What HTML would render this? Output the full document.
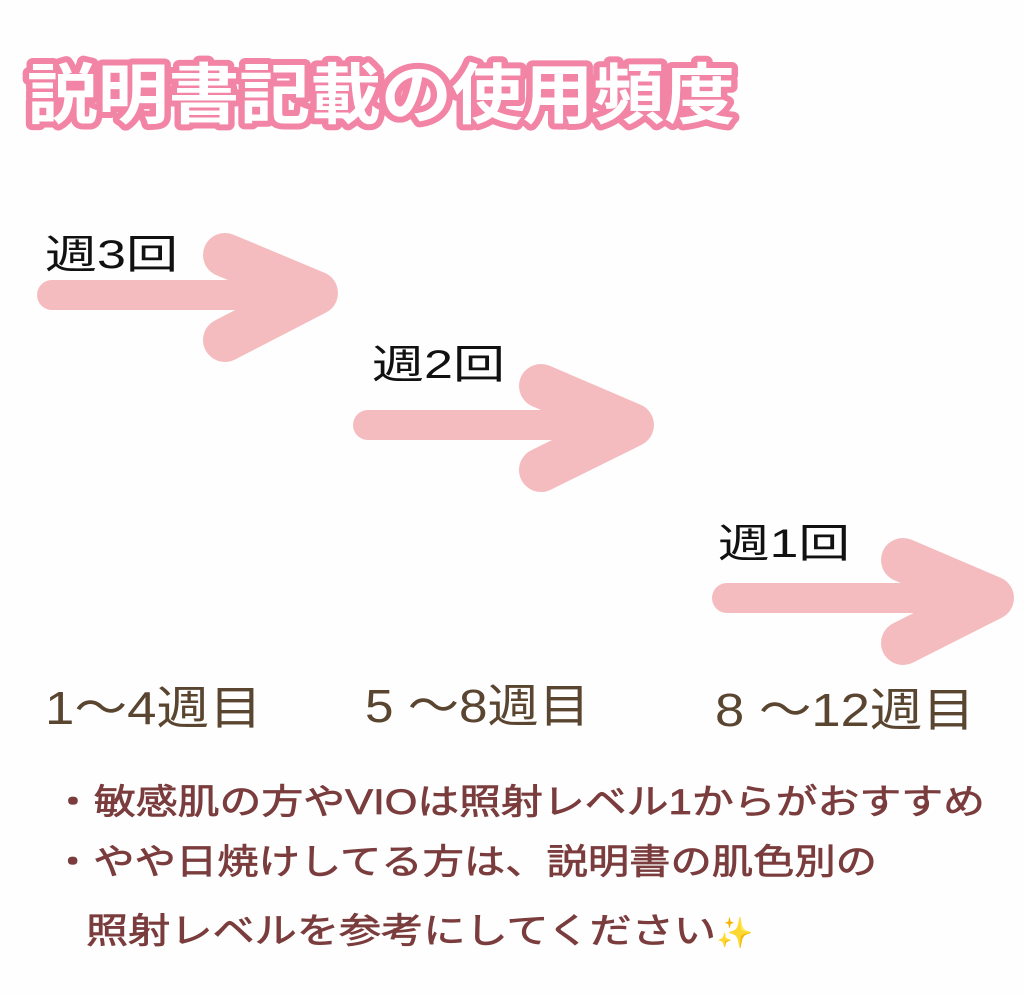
<!DOCTYPE html>
<html><head><meta charset="utf-8"><style>
html,body{margin:0;padding:0;background:#fff;}
svg{display:block;}
text{font-family:"Liberation Sans","Noto Sans CJK JP",sans-serif;}
</style></head><body>
<svg width="1024" height="994" viewBox="0 0 1024 994" xmlns="http://www.w3.org/2000/svg">
<rect width="1024" height="994" fill="#fffefe"/>
<text x="27" y="118" font-size="66" font-weight="bold" fill="#fff" stroke="#f284a5" stroke-width="12" stroke-linejoin="round" textLength="708" lengthAdjust="spacingAndGlyphs">説明書記載の使用頻度</text>
<text x="27" y="118" font-size="66" font-weight="bold" fill="#fff" textLength="708" lengthAdjust="spacingAndGlyphs">説明書記載の使用頻度</text>
<g fill="none" stroke="#f5bcbf" stroke-linecap="round" stroke-linejoin="round">
<line x1="52" y1="295" x2="320" y2="295" stroke-width="30"/>
<polyline points="225,255 316,293 225,340" stroke-width="44"/>
<line x1="368" y1="425" x2="635" y2="425" stroke-width="30"/>
<polyline points="541,386 632,425 541,470" stroke-width="44"/>
<line x1="727" y1="598" x2="990" y2="598" stroke-width="30"/>
<polyline points="903,560 992,598 903,643" stroke-width="44"/>
</g>
<g font-size="40" fill="#111">
<text x="45" y="268" textLength="133" lengthAdjust="spacingAndGlyphs">週3回</text>
<text x="372" y="378" textLength="133" lengthAdjust="spacingAndGlyphs">週2回</text>
<text x="718" y="557" textLength="132" lengthAdjust="spacingAndGlyphs">週1回</text>
</g>
<g font-size="46" fill="#5a4630">
<text x="45" y="724" textLength="217" lengthAdjust="spacingAndGlyphs">1〜4週目</text>
<text x="365" y="722" textLength="225" lengthAdjust="spacingAndGlyphs">5 〜8週目</text>
<text x="715" y="726" textLength="260" lengthAdjust="spacingAndGlyphs">8 〜12週目</text>
</g>
<g font-size="35" fill="#7a3c3c" stroke="#7a3c3c" stroke-width="0.7">
<text x="52" y="814" textLength="933" lengthAdjust="spacingAndGlyphs">・敏感肌の方やVIOは照射レベル1からがおすすめ</text>
<text x="52" y="874" textLength="825" lengthAdjust="spacingAndGlyphs">・やや日焼けしてる方は、説明書の肌色別の</text>
<text x="86" y="943" textLength="630" lengthAdjust="spacingAndGlyphs">照射レベルを参考にしてください</text>
</g>
<text x="716" y="943" font-size="30" fill="#f2c64a">✨</text>
</svg>
</body></html>
